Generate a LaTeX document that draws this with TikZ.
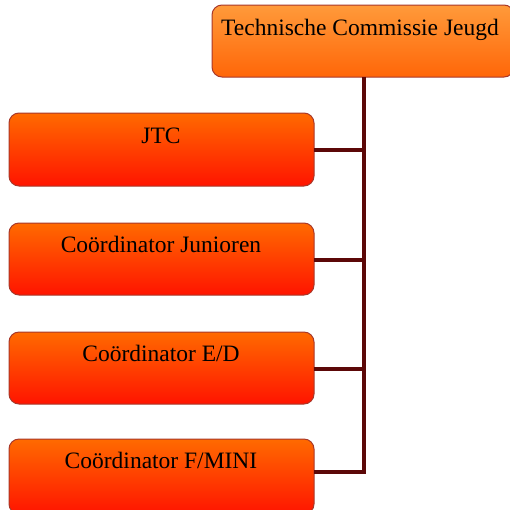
\documentclass[tikz,border=0pt]{standalone}
\usepackage{fontspec}
\setmainfont{Liberation Serif}
\begin{document}
\begin{tikzpicture}[x=1pt,y=-1pt,
  box/.style={draw=boxedge, line width=1pt, rounded corners=10pt, top color=lowtop, bottom color=lowbot},
  topbox/.style={draw=boxedge, line width=1pt, rounded corners=10pt, top color=hitop, bottom color=hibot},
  lbl/.style={font=\fontsize{23.5}{26}\selectfont, anchor=base, inner sep=0pt},
  link/.style={draw=linkcol, line width=3.5pt}]
\definecolor{boxedge}{HTML}{A8382A}
\definecolor{lowtop}{HTML}{FF6A00}
\definecolor{lowbot}{HTML}{FF1400}
\definecolor{hitop}{HTML}{FF9A3A}
\definecolor{hibot}{HTML}{FF6608}
\definecolor{linkcol}{HTML}{5C0808}
\useasboundingbox (0,0) rectangle (510,509);
% top box
\path[topbox] (212,5) rectangle (514,77);
\node[lbl] (t) at (360,35) {Technische Commissie Jeugd};
\coordinate (tb) at (364,77);
% boxes
\path[box] (9,113) rectangle (314,186);
\path[box] (9,223) rectangle (314,295);
\path[box] (9,332) rectangle (314,404);
\path[box] (9,439) rectangle (314,514);
\node[lbl] (a) at (161,143) {JTC};
\node[lbl] (b) at (161,252) {Coördinator Junioren};
\node[lbl] (c) at (161,361) {Coördinator E/D};
\node[lbl] (d) at (161,468) {Coördinator F/MINI};
\coordinate (a1) at (314,150);
\coordinate (b1) at (314,260);
\coordinate (c1) at (314,369);
\coordinate (d1) at (314,472);
\draw[link] (tb) -- (364,472) -- (d1);
\draw[link] (a1) -- (364,150);
\draw[link] (b1) -- (364,260);
\draw[link] (c1) -- (364,369);
\end{tikzpicture}
\end{document}
